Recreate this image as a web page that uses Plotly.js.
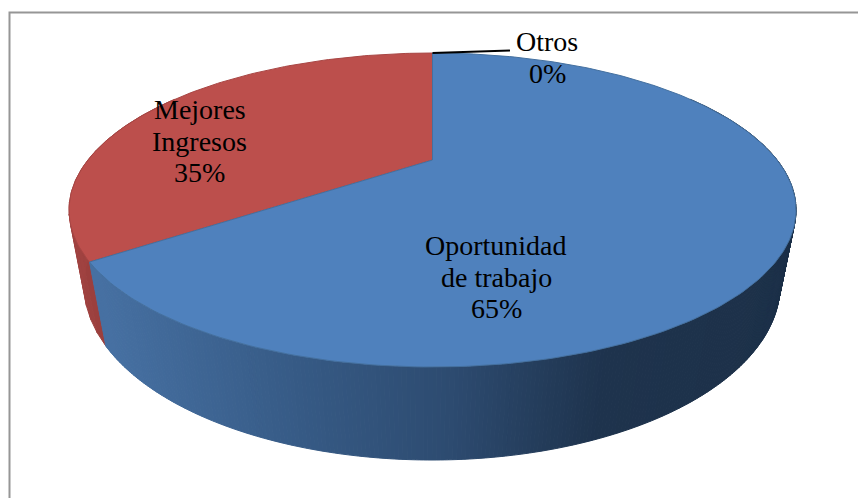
<!DOCTYPE html>
<html><head><meta charset="utf-8">
<script src="https://cdn.plot.ly/plotly-3.0.1.min.js"></script>
<style>html,body{margin:0;padding:0;background:#fff}</style></head>
<body><div id="chart" style="width:858px;height:498px"></div>
<script>
const categories = [["Oportunidad","de trabajo"], ["Mejores","Ingresos"], ["Otros"]];
const values = [65, 35, 0];
const percentLabels = ["65%", "35%", "0%"];
const labelX = [496, 199.5, 547];
const labelTopY = [245.5, 109.5, 41.5];
const lineGap = 31.5;

const topFaceColors = ["#4f81bd", "#bc4f4c"];
const sideStops = [[105,[70,112,162]],[300,[54,90,133]],[450,[45,75,112]],[600,[30,51,77]],[800,[28,48,72]]];
const redSide = [[60,[165,70,68]],[110,[150,60,58]]];

const topRim = {cx:432.5, b:160, a:-90.1, c:0.3185, k:344.6};
const botRim = {cx:432, b:232.5, a:-89.5, c:0.3, k:332};

function project(p, deg){
  const t = deg*Math.PI/180, u = Math.sin(t), v = Math.cos(t), d = 1 + p.c*v;
  return [p.cx + p.k*u/d, (p.a*v + p.b)/d];
}
function ramp(stops, x){
  if (x <= stops[0][0]) return stops[0][1];
  for (let i=1;i<stops.length;i++){
    if (x <= stops[i][0]){
      const f=(x-stops[i-1][0])/(stops[i][0]-stops[i-1][0]);
      return stops[i][1].map((c,j)=>c+(stops[i-1][1][j]-c)*(1-f));
    }
  }
  return stops[stops.length-1][1];
}
const rgb = c => "rgb("+c.map(Math.round).join(",")+")";
const polyTrace = (xs, ys, fill, line, w) => ({type:"scatter", mode:"lines", x:xs, y:ys, fill:"toself",
  fillcolor:fill, line:{color:line||fill, width:w===undefined?1:w}, hoverinfo:"skip", showlegend:false});

const total = values.reduce((a,b)=>a+b,0);
const boundary = values[0]/total*360;
const traces = [];

function sideStrips(from, to, step, stops){
  for (let a=from; a<to; a+=step){
    const b=Math.min(a+step,to), t1=project(topRim,a), t2=project(topRim,b), b1=project(botRim,a), b2=project(botRim,b);
    const col = rgb(ramp(stops,(b1[0]+b2[0]+t1[0]+t2[0])/4));
    traces.push(polyTrace([t1[0],t2[0],b2[0],b1[0],t1[0]],[t1[1],t2[1],b2[1],b1[1],t1[1]],col));
  }
}
sideStrips(boundary, 300, 4, redSide);
sideStrips(60, boundary, 0.5, sideStops);

function face(from, to, color, edge){
  const xs=[topRim.cx], ys=[topRim.b];
  for (let a=from; a<=to+1e-6; a+=1){ const p=project(topRim,a); xs.push(p[0]); ys.push(p[1]); }
  xs.push(topRim.cx); ys.push(topRim.b);
  traces.push(polyTrace(xs,ys,color,edge,1));
}
face(boundary, 360, topFaceColors[1], "#a84644");
face(0, boundary, topFaceColors[0], "#44709f");

const start = project(topRim,0);
traces.push({type:"scatter", mode:"lines", x:[start[0], 510], y:[start[1], 50.5],
  line:{color:"#000", width:1.8}, hoverinfo:"skip", showlegend:false});

const annotations = [];
categories.forEach((lines,i)=>{
  lines.concat(percentLabels[i]).forEach((txt,j)=>{
    annotations.push({x:labelX[i], y:labelTopY[i]+j*lineGap, xref:"x", yref:"y", text:txt, showarrow:false,
      font:{family:"Liberation Serif, serif", size:28, color:"#000"}});
  });
});

const layout = {width:858, height:498, margin:{l:0,r:0,t:0,b:0}, paper_bgcolor:"#fff", plot_bgcolor:"#fff",
  xaxis:{range:[0,858], visible:false, fixedrange:true},
  yaxis:{range:[498,0], visible:false, fixedrange:true},
  shapes:[{type:"path", xref:"x", yref:"y", path:"M9.5,498 L9.5,12.5 L858,12.5", line:{color:"#969696", width:2}, layer:"below"}],
  annotations};
Plotly.newPlot("chart", traces, layout, {displayModeBar:false, staticPlot:true});
</script></body></html>
